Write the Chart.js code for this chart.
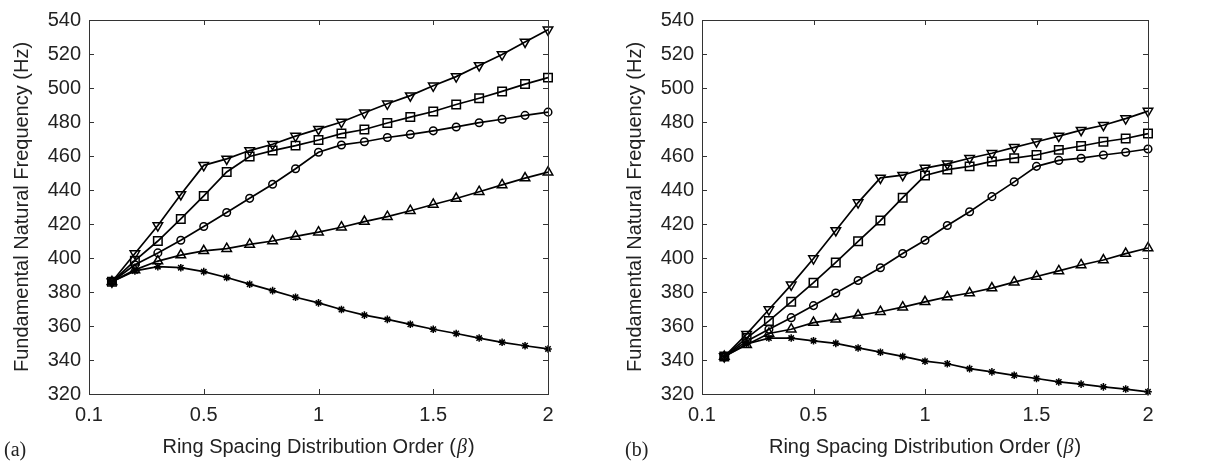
<!DOCTYPE html>
<html>
<head>
<meta charset="utf-8">
<script src="https://cdn.jsdelivr.net/npm/chart.js@4.4.0/dist/chart.umd.min.js"></script>
<style>
  html, body { margin: 0; padding: 0; background: #fff; }
  .wrap { position: relative; width: 1207px; height: 463px; }
  canvas { position: absolute; top: 0; }
  #chartA { left: 0; }
  #chartB { left: 603px; }
</style>
</head>
<body>
<div class="wrap">
  <canvas id="chartA" width="603" height="463"></canvas>
  <canvas id="chartB" width="604" height="463"></canvas>
</div>
<script>
// ring spacing distribution order (beta)
const beta = [0.1, 0.2, 0.3, 0.4, 0.5, 0.6, 0.7, 0.8, 0.9, 1.0, 1.1, 1.2, 1.3, 1.4, 1.5, 1.6, 1.7, 1.8, 1.9, 2.0];
const xTickLabels = ["0.1", "0.5", "1", "1.5", "2"];
const yTicks = [320, 340, 360, 380, 400, 420, 440, 460, 480, 500, 520, 540];

// panel (a)
const aDown = [386, 402.6, 419.1, 437.4, 454.5, 458.3, 463.2, 466.9, 471.7, 475.8, 480, 485.4, 490.7, 495.5, 501.3, 506.7, 513.3, 519.7, 527.1, 534.2];
const aSquare = [386, 398.4, 410, 423, 436.5, 450.6, 459.7, 463.2, 466.1, 469.4, 473.2, 475.6, 479.4, 482.9, 486.2, 490.3, 494, 498, 502.3, 506.1];
const aCircle = [386, 396, 403, 410.4, 418.5, 426.8, 435.1, 443.4, 452.5, 462.2, 466.5, 468.4, 470.9, 472.7, 474.8, 477.1, 479.6, 481.6, 483.9, 485.8];
const aUp = [386, 393, 398.2, 401.7, 404.2, 405.5, 408, 410, 412.7, 415.2, 418.1, 421.4, 424.3, 427.8, 431.5, 435, 439, 443, 447, 450.5];
const aStar = [386, 392.4, 394.9, 394.3, 392, 388.5, 384.6, 380.8, 376.9, 373.6, 369.7, 366.4, 363.9, 361, 358.1, 355.6, 352.9, 350.4, 348.4, 346.5];

// panel (b)
const bDown = [342, 355.2, 369.7, 384.2, 399.7, 416.2, 432.6, 447.1, 448.7, 452.9, 455.4, 458.7, 461.6, 465.1, 468.4, 471.7, 475.2, 478.1, 482, 486.4];
const bSquare = [342, 352.9, 363, 374.2, 385.5, 397.4, 409.8, 422, 435.5, 448.5, 452, 453.9, 456.8, 458.7, 460.6, 463.6, 465.9, 468.4, 470.3, 473.2];
const bCircle = [342, 351, 358.1, 364.9, 372, 379.4, 386.8, 394.3, 402.6, 410.4, 419.1, 427.2, 436.1, 444.8, 453.9, 457.4, 458.7, 460.6, 462.2, 464.1];
const bUp = [342, 349, 355.6, 358.1, 362, 363.9, 366.3, 368.4, 371.1, 374.2, 377.1, 379.4, 382.3, 385.8, 389.1, 392.4, 395.9, 398.8, 402.6, 405.9];
const bStar = [342, 349.4, 352.9, 352.9, 351.3, 349.8, 347.1, 344.6, 342.1, 339.3, 337.8, 334.9, 333, 331, 329.1, 327.1, 325.8, 324.2, 322.9, 321.3];

const SANS = "'Liberation Sans', Arial, sans-serif";
const SERIF = "'Liberation Serif', 'Times New Roman', serif";
const TEXT = "#222";
const FS = 20;

const markers = [
  { style: "triangle", radius: 5.5, rotation: 180 },
  { style: "rect", radius: 6, rotation: 0 },
  { style: "circle", radius: 3.8, rotation: 0 },
  { style: "triangle", radius: 5.5, rotation: 0 },
  { style: "star", radius: 3.8, rotation: 0 },
];

function series(values, m) {
  return {
    data: beta.map((b, i) => ({ x: b, y: values[i] })),
    borderColor: "#000",
    borderWidth: 1.7,
    tension: 0,
    pointStyle: m.style,
    pointRadius: m.radius,
    pointRotation: m.rotation,
    pointBorderColor: "#000",
    pointBorderWidth: 1.5,
    pointBackgroundColor: "rgba(0,0,0,0)",
    clip: false,
  };
}

// box, inward ticks and titles (MATLAB look)
const frame = {
  id: "frame",
  afterDraw(chart, args, opts) {
    const { ctx, chartArea: a, scales } = chart;
    const x = scales.x, y = scales.y;
    ctx.save();
    ctx.strokeStyle = "#333";
    ctx.lineWidth = 1;
    ctx.strokeRect(Math.round(a.left) + 0.5, Math.round(a.top) + 0.5, Math.round(a.width), Math.round(a.height));
    ctx.beginPath();
    x.ticks.forEach((t) => {
      const px = Math.round(x.getPixelForValue(t.value)) + 0.5;
      ctx.moveTo(px, a.bottom); ctx.lineTo(px, a.bottom - 5);
      ctx.moveTo(px, a.top); ctx.lineTo(px, a.top + 5);
    });
    y.ticks.forEach((t) => {
      const py = Math.round(y.getPixelForValue(t.value)) + 0.5;
      ctx.moveTo(a.left, py); ctx.lineTo(a.left + 5, py);
      ctx.moveTo(a.right, py); ctx.lineTo(a.right - 5, py);
    });
    ctx.stroke();

    ctx.fillStyle = TEXT;
    // y title
    ctx.save();
    ctx.translate(a.left - 67, (a.top + a.bottom) / 2);
    ctx.rotate(-Math.PI / 2);
    ctx.font = FS + "px " + SANS;
    ctx.textAlign = "center";
    ctx.textBaseline = "middle";
    ctx.fillText("Fundamental Natural Frequency (Hz)", 0, 0);
    ctx.restore();

    // x title with italic beta
    const p1 = "Ring Spacing Distribution Order (";
    const p2 = "\u03B2";
    const p3 = ")";
    ctx.textBaseline = "alphabetic";
    ctx.textAlign = "left";
    ctx.font = FS + "px " + SANS;
    const w1 = ctx.measureText(p1).width;
    const w3 = ctx.measureText(p3).width;
    ctx.font = "italic " + FS + "px " + SERIF;
    const w2 = ctx.measureText(p2).width + 2;
    let sx = (a.left + a.right) / 2 - (w1 + w2 + w3) / 2;
    const by = 453;
    ctx.font = FS + "px " + SANS;
    ctx.fillText(p1, sx, by);
    ctx.font = "italic " + FS + "px " + SERIF;
    ctx.fillText(p2, sx + w1 + 1, by);
    ctx.font = FS + "px " + SANS;
    ctx.fillText(p3, sx + w1 + w2, by);

    // panel label
    ctx.font = "20px " + SERIF;
    ctx.fillText(opts.panel, opts.panelX, 456);
    ctx.restore();
  },
};

function makeChart(id, sets, plotLeft, padRight, panel, panelX) {
  new Chart(document.getElementById(id), {
    type: "line",
    data: { datasets: sets.map((v, i) => series(v, markers[i])) },
    options: {
      responsive: false,
      devicePixelRatio: 1,
      animation: false,
      layout: { padding: { left: 0, top: 15, right: padRight, bottom: 0 } },
      plugins: {
        legend: { display: false },
        tooltip: { enabled: false },
        frame: { panel: panel, panelX: panelX },
      },
      scales: {
        x: {
          type: "linear",
          min: 0,
          max: 2,
          grid: { display: false, drawTicks: false },
          border: { display: false },
          afterFit: (s) => { s.height = 69; },
          afterBuildTicks: (s) => { s.ticks = [0, 0.5, 1, 1.5, 2].map((v) => ({ value: v })); },
          ticks: {
            padding: 9,
            maxRotation: 0,
            font: { family: SANS, size: FS },
            color: TEXT,
            callback: (v, i) => xTickLabels[i],
          },
        },
        y: {
          min: 320,
          max: 540,
          grid: { display: false, drawTicks: false },
          border: { display: false },
          afterFit: (s) => { s.width = plotLeft; },
          afterBuildTicks: (s) => { s.ticks = yTicks.map((v) => ({ value: v })); },
          ticks: {
            padding: 8,
            font: { family: SANS, size: FS },
            color: TEXT,
            callback: (v) => String(v),
          },
        },
      },
    },
    plugins: [frame],
  });
}

makeChart("chartA", [aDown, aSquare, aCircle, aUp, aStar], 89, 55, "(a)", 4);
makeChart("chartB", [bDown, bSquare, bCircle, bUp, bStar], 99, 59, "(b)", 22);
</script>
</body>
</html>
